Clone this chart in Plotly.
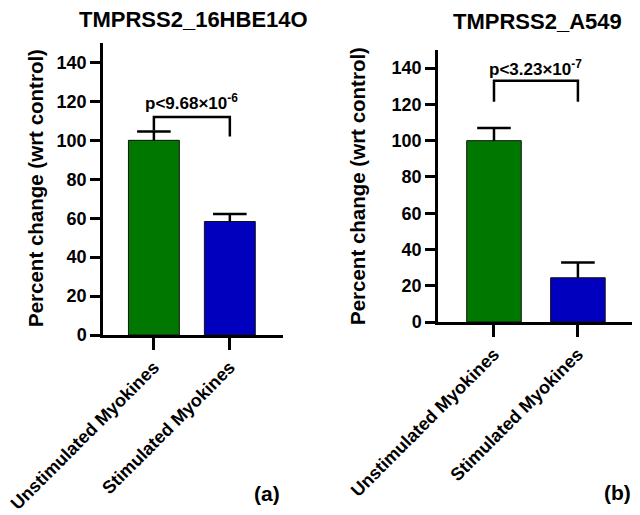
import plotly.graph_objects as go

# ---- data ----
categories = ["Unstimulated Myokines", "Stimulated Myokines"]
a_means = [100.0, 58.3]
a_sem = [4.6, 3.9]
b_means = [100.0, 24.4]
b_sem = [7.0, 8.4]
a_bracket = [105.0, 112.0, 112.0, 102.0]   # left leg end, top, top, right leg end
b_bracket = [121.5, 133.0, 133.0, 121.5]
a_ptext = "p<9.68×10<sup>-6</sup>"
b_ptext = "p<3.23×10<sup>-7</sup>"
a_ptext_y = 119.5
b_ptext_y = 140.0
y_ticks = [0, 20, 40, 60, 80, 100, 120, 140]
titles = ["TMPRSS2_16HBE14O", "TMPRSS2_A549"]
ytitle = "Percent change (wrt control)"
bar_colors = ["#007800", "#0000BE"]

FONT = "Arial, Liberation Sans, sans-serif"
# page body has an 8px default margin; compensate so the figure fills the window
OFF = 8
W, H = 640 - OFF, 515 - OFF

def fx(px):
    return (px - OFF) / W

def fy(py):
    return 1 - (py - OFF) / H

def bfont(size):
    return dict(family=FONT, size=size, color="black", weight="bold")

fig = go.Figure()

def add_panel(means, sem, bracket, ptext, ptext_y, xr, yr, width):
    fig.add_trace(go.Bar(x=categories, y=means, width=width,
                         marker=dict(color=bar_colors, line=dict(color="#111111", width=1)),
                         xaxis=xr, yaxis=yr, showlegend=False))
    # upper-only error bars: stems
    ex, ey = [], []
    for c, m, s in zip(categories, means, sem):
        ex += [c, c, None]
        ey += [m, m + s, None]
    fig.add_trace(go.Scatter(x=ex, y=ey, mode="lines",
                             line=dict(color="black", width=2.5),
                             xaxis=xr, yaxis=yr, showlegend=False, hoverinfo="skip"))
    # caps
    fig.add_trace(go.Scatter(x=categories, y=[m + s for m, s in zip(means, sem)], mode="markers",
                             marker=dict(symbol="line-ew", size=24,
                                         line=dict(color="black", width=2.5)),
                             xaxis=xr, yaxis=yr, showlegend=False, hoverinfo="skip"))
    # significance bracket
    bx = [categories[0], categories[0], categories[1], categories[1]]
    fig.add_trace(go.Scatter(x=bx, y=bracket, mode="lines",
                             line=dict(color="black", width=2.5),
                             xaxis=xr, yaxis=yr, showlegend=False, hoverinfo="skip"))
    fig.add_annotation(x=0.5, y=ptext_y, xref=xr, yref=yr, text="<b>" + ptext + "</b>",
                       xanchor="center", yanchor="middle",
                       showarrow=False, font=bfont(17))

add_panel(a_means, a_sem, a_bracket, a_ptext, a_ptext_y, "x", "y", 0.67)
add_panel(b_means, b_sem, b_bracket, b_ptext, b_ptext_y, "x2", "y2", 0.65)

axis_common = dict(showline=True, linecolor="black", linewidth=2.5, ticks="outside",
                   tickcolor="black", tickwidth=2.5, showgrid=False, zeroline=False,
                   automargin=False, fixedrange=True)
yaxis_common = dict(axis_common, range=[0, 150], tickvals=y_ticks,
                    ticktext=["<b>%d</b>" % v for v in y_ticks], ticklen=10,
                    tickfont=bfont(18))
xaxis_common = dict(axis_common, ticklen=12, tickangle=-45, type="category",
                    tickvals=categories, ticktext=["<b>" + c + "</b>" for c in categories],
                    tickfont=bfont(18))

fig.update_layout(
    width=W, height=H,
    margin=dict(l=0, r=0, t=0, b=0),
    plot_bgcolor="white", paper_bgcolor="white",
    font=dict(family=FONT, color="black"),
    xaxis=dict(xaxis_common, domain=[fx(103), fx(283)], range=[-0.67, 1.70], anchor="y"),
    yaxis=dict(yaxis_common, domain=[fy(335), fy(43)], anchor="x"),
    xaxis2=dict(xaxis_common, domain=[fx(438), fx(635)], range=[-0.667, 1.68], anchor="y2"),
    yaxis2=dict(yaxis_common, domain=[fy(322), fy(50)], anchor="x2"),
)

def pann(x, y, text, size, angle=0):
    fig.add_annotation(x=fx(x), y=fy(y), xref="paper", yref="paper",
                       xanchor="center", yanchor="middle", textangle=angle,
                       text="<b>" + text + "</b>", showarrow=False, font=bfont(size))

pann(193, 19, titles[0], 22)
pann(537, 21, titles[1], 22)
pann(35, 188, ytitle, 20.5, -90)
pann(357, 186, ytitle, 20.5, -90)
pann(267, 493, "(a)", 21)
pann(617, 492, "(b)", 21)

fig.write_html("out.html")
